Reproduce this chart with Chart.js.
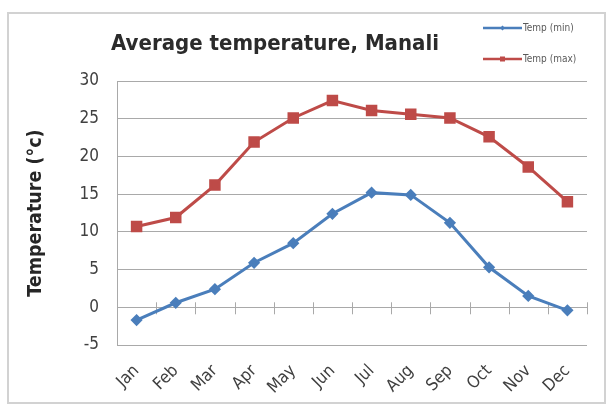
<!DOCTYPE html>
<html>
<head>
<meta charset="utf-8">
<script src="https://cdn.jsdelivr.net/npm/chart.js@4.4.0/dist/chart.umd.min.js"></script>
<style>
  html, body { margin: 0; padding: 0; background: #fff; }
  #wrap { position: relative; width: 606px; height: 405px; }
</style>
</head>
<body>
<div id="wrap"><canvas id="tempChart" width="606" height="405"></canvas></div>
<script>
// values
var months = ["Jan", "Feb", "Mar", "Apr", "May", "Jun", "Jul", "Aug", "Sep", "Oct", "Nov", "Dec"];
var tempMin = [-1.7, 0.6, 2.4, 5.9, 8.5, 12.4, 15.2, 14.9, 11.2, 5.3, 1.5, -0.4];
var tempMax = [10.7, 11.9, 16.2, 21.9, 25.1, 27.4, 26.1, 25.6, 25.1, 22.6, 18.6, 14.0];
var yMin = -5, yMax = 30, yStep = 5;

var chartTitle = "Average temperature, Manali";
var yTitle = "Temperature (\u00b0c)";

var blue = "#4a7ebb";
var red = "#be4b48";
var gridColor = "#a9a9a9";
var fontName = "'DejaVu Sans Condensed', 'DejaVu Sans', sans-serif";

// draws the frame, title, excel style legend and the tick marks on the zero line
var excelBits = {
	id: "excelBits",
	beforeDraw: function(chart) {
		var ctx = chart.ctx;
		ctx.save();
		ctx.fillStyle = "#fff";
		ctx.fillRect(0, 0, chart.width, chart.height);
		ctx.strokeStyle = "#d2d2d2";
		ctx.lineWidth = 2;
		ctx.strokeRect(8, 13, 597, 390);
		ctx.restore();
	},
	beforeDatasetsDraw: function(chart) {
		var ctx = chart.ctx;
		var x = chart.scales.x, y = chart.scales.y;
		var y0 = y.getPixelForValue(0);
		var half = (x.getPixelForTick(1) - x.getPixelForTick(0)) / 2;
		ctx.save();
		ctx.strokeStyle = gridColor;
		ctx.lineWidth = 1;
		for (var i = 0; i < months.length; i++) {
			var tx = Math.round(x.getPixelForTick(i) + half) + 0.5;
			ctx.beginPath();
			ctx.moveTo(tx, y0 - 5);
			ctx.lineTo(tx, y0 + 7);
			ctx.stroke();
		}
		ctx.restore();
	},
	afterDraw: function(chart) {
		var ctx = chart.ctx;
		ctx.save();
		// title
		ctx.fillStyle = "#2b2b2b";
		ctx.font = "bold 22px " + fontName;
		ctx.textAlign = "center";
		ctx.textBaseline = "middle";
		ctx.fillText(chartTitle, 275, 44);
		// legend
		var rows = [28, 59];
		chart.data.datasets.forEach(function(ds, i) {
			var ly = rows[i];
			ctx.strokeStyle = ds.borderColor;
			ctx.lineWidth = 2.5;
			ctx.beginPath();
			ctx.moveTo(483, ly);
			ctx.lineTo(522, ly);
			ctx.stroke();
			ctx.fillStyle = ds.borderColor;
			if (ds.pointStyle == "rect") {
				ctx.fillRect(500, ly - 2.5, 5, 5);
			} else {
				ctx.beginPath();
				ctx.moveTo(502.5, ly - 2.5);
				ctx.lineTo(505, ly);
				ctx.lineTo(502.5, ly + 2.5);
				ctx.lineTo(500, ly);
				ctx.fill();
			}
			ctx.fillStyle = "#595959";
			ctx.font = "10px " + fontName;
			ctx.textAlign = "left";
			ctx.fillText(ds.label, 523, ly + 0.5);
		});
		ctx.restore();
	}
};

var ctx = document.getElementById("tempChart").getContext("2d");
var tempChart = new Chart(ctx, {
	type: "line",
	data: {
		labels: months,
		datasets: [
			{
				label: "Temp (min)",
				data: tempMin,
				borderColor: blue,
				backgroundColor: blue,
				borderWidth: 3,
				pointStyle: "rectRot",
				pointRadius: 4,
				tension: 0
			},
			{
				label: "Temp (max)",
				data: tempMax,
				borderColor: red,
				backgroundColor: red,
				borderWidth: 3,
				pointStyle: "rect",
				pointRadius: 6,
				tension: 0
			}
		]
	},
	options: {
		responsive: false,
		animation: false,
		layout: { padding: { left: 22, right: 19, top: 81, bottom: 0 } },
		plugins: {
			legend: { display: false },
			title: { display: false },
			tooltip: { enabled: false }
		},
		scales: {
			x: {
				offset: true,
				grid: { display: false, drawTicks: false },
				border: { display: false },
				ticks: {
					color: "#404040",
					font: { family: fontName, size: 17 },
					minRotation: 45,
					maxRotation: 45,
					padding: 16,
					labelOffset: 0
				},
				afterFit: function(scale) { scale.height = 60; }
			},
			y: {
				min: yMin,
				max: yMax,
				ticks: {
					stepSize: yStep,
					color: "#404040",
					font: { family: fontName, size: 17 },
					padding: 18
				},
				grid: { color: gridColor, lineWidth: 1, drawTicks: false },
				border: { display: true, color: gridColor, width: 1 },
				title: {
					display: true,
					text: yTitle,
					color: "#262626",
					font: { family: fontName, size: 19.5, weight: "bold" },
					padding: { top: 2, bottom: 0 }
				},
				afterFit: function(scale) { scale.width = 95; }
			}
		}
	},
	plugins: [excelBits]
});
</script>
</body>
</html>
